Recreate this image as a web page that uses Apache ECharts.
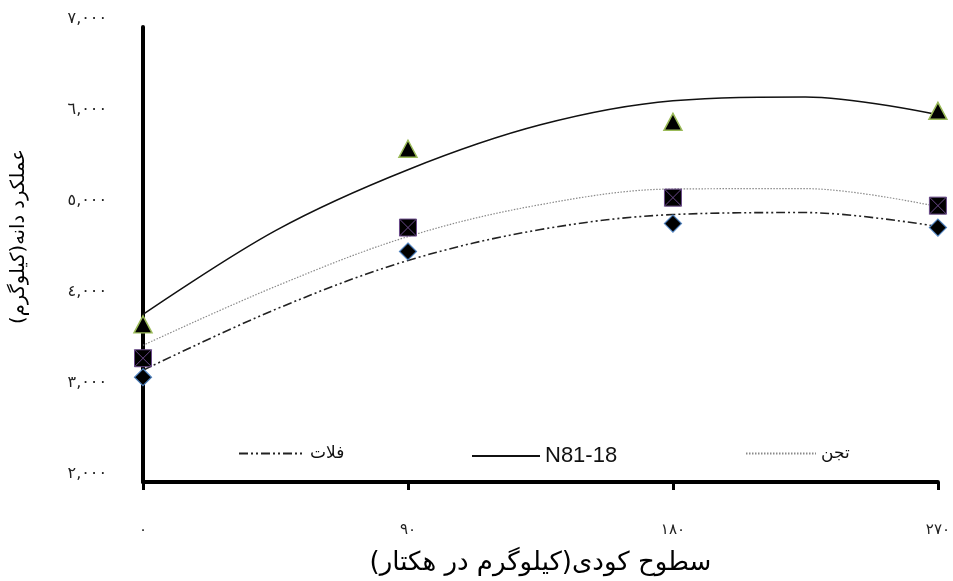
<!DOCTYPE html>
<html>
<head>
<meta charset="utf-8">
<script src="https://cdn.jsdelivr.net/npm/echarts@6/dist/echarts.min.js"></script>
<style>
html,body{margin:0;padding:0;background:#fff;}
#chart{width:953px;height:581px;}
</style>
</head>
<body>
<div id="chart"></div>
<script>
// ---- data ----
const xValues = [0, 90, 180, 270];
const xTickLabels = ['٠', '٩٠', '١٨٠', '٢٧٠'];
const yTickLabels = ['٢,٠٠٠', '٣,٠٠٠', '٤,٠٠٠', '٥,٠٠٠', '٦,٠٠٠', '٧,٠٠٠'];
const seriesNames = ['فلات', 'N81-18', 'تجن'];

const falatPoints = [3151, 4533, 4840, 4796];
const n8118Points = [3732, 5662, 5958, 6079];
const tajanPoints = [3360, 4796, 5125, 5037];

const curveX = [0, 45, 90, 135, 180, 225, 270];
const falatCurve = [3228, 3897, 4434, 4774, 4939, 4961, 4807];
const n8118Curve = [3842, 4763, 5432, 5925, 6189, 6232, 6035];
const tajanCurve = [3502, 4149, 4697, 5048, 5220, 5224, 5026];

const xTitle = 'سطوح کودی(کیلوگرم در هکتار)';
const yTitle = 'عملکرد دانه(کیلوگرم)';

function pairs(xs, ys) { return xs.map((x, i) => [x, ys[i]]); }

const FONT = '"Liberation Sans", "DejaVu Sans", sans-serif';
const AFONT = '"DejaVu Sans", sans-serif';

const hiddenSymbol = {color: 'rgba(0,0,0,0)', borderColor: 'rgba(0,0,0,0)', borderWidth: 0};
function legendFor(name, left, width) {
  return {
    data: [name], left: left, top: 445, padding: 0,
    itemWidth: width, itemHeight: 12, itemGap: 0,
    itemStyle: hiddenSymbol,
    formatter: n => /[A-Za-z0-9]/.test(n) ? '{lat|' + n + '}' : '{ar|' + n + '}',
    textStyle: {
      color: '#111',
      rich: {
        lat: {fontFamily: FONT, fontSize: 22, color: '#111'},
        ar: {fontFamily: AFONT, fontSize: 17, color: '#111'}
      }
    }
  };
}

const chart = echarts.init(document.getElementById('chart'), null, {renderer: 'canvas'});
chart.setOption({
  animation: false,
  backgroundColor: '#fff',
  grid: {left: 143, right: 12, top: 27, bottom: 98, containLabel: false},
  legend: [
    legendFor(seriesNames[0], 238, 66),
    legendFor(seriesNames[1], 471, 68),
    legendFor(seriesNames[2], 745, 70)
  ],
  xAxis: {
    type: 'value', min: 0, max: 270, interval: 90,
    axisLine: {show: true, onZero: false, lineStyle: {color: '#000', width: 4}},
    axisTick: {show: true, length: 8, lineStyle: {color: '#000', width: 3}},
    splitLine: {show: false},
    axisLabel: {
      margin: 41, fontFamily: AFONT, fontSize: 15, color: '#222',
      formatter: v => xTickLabels[xValues.indexOf(v)] ?? ''
    },
    name: xTitle, nameLocation: 'middle', nameGap: 68,
    nameTextStyle: {fontFamily: AFONT, fontSize: 26, color: '#000'}
  },
  yAxis: {
    type: 'value', min: 2000, max: 7000, interval: 1000,
    axisLine: {show: true, lineStyle: {color: '#000', width: 4}},
    axisTick: {show: false},
    splitLine: {show: false},
    axisLabel: {
      margin: 36, fontFamily: AFONT, fontSize: 16, color: '#222',
      verticalAlign: 'bottom', padding: [0, 0, 0, 0],
      formatter: v => yTickLabels[Math.round((v - 2000) / 1000)] ?? ''
    },
    name: yTitle, nameLocation: 'middle', nameGap: 114, nameRotate: 90,
    nameTextStyle: {fontFamily: AFONT, fontSize: 19.5, color: '#000', padding: [0, 0, 0, 36]}
  },
  series: [
    {
      name: seriesNames[0], type: 'line', data: pairs(curveX, falatCurve),
      smooth: 0.35, symbol: 'none', z: 2,
      lineStyle: {color: '#222', width: 1.6, type: [9, 3, 2, 3, 2, 3]},
      itemStyle: {color: '#222'}
    },
    {
      name: seriesNames[1], type: 'line', data: pairs(curveX, n8118Curve),
      smooth: 0.35, symbol: 'none', z: 2,
      lineStyle: {color: '#111', width: 1.5, type: 'solid'},
      itemStyle: {color: '#111'}
    },
    {
      name: seriesNames[2], type: 'line', data: pairs(curveX, tajanCurve),
      smooth: 0.35, symbol: 'none', z: 2,
      lineStyle: {color: '#8a8a8a', width: 1.2, type: [1.5, 1.5]},
      itemStyle: {color: '#8a8a8a'}
    },
    {
      name: 'falat-pts', type: 'scatter', data: pairs(xValues, falatPoints), z: 5,
      symbol: 'diamond', symbolSize: [17, 17],
      itemStyle: {color: '#000', opacity: 1, borderColor: '#4f81bd', borderWidth: 1.2}
    },
    {
      name: 'n8118-pts', type: 'scatter', data: pairs(xValues, n8118Points), z: 5,
      symbol: 'triangle', symbolSize: [18, 17],
      itemStyle: {color: '#000', opacity: 1, borderColor: '#9bbb59', borderWidth: 1.5}
    },
    {
      name: 'tajan-pts', type: 'scatter', data: pairs(xValues, tajanPoints), z: 5,
      symbol: 'path://M0,0L10,0L10,10L0,10ZM0,0L10,10M10,0L0,10', symbolSize: [17, 17],
      itemStyle: {color: '#000', opacity: 1, borderColor: '#6a4a8a', borderWidth: 1}
    }
  ]
});
</script>
</body>
</html>
